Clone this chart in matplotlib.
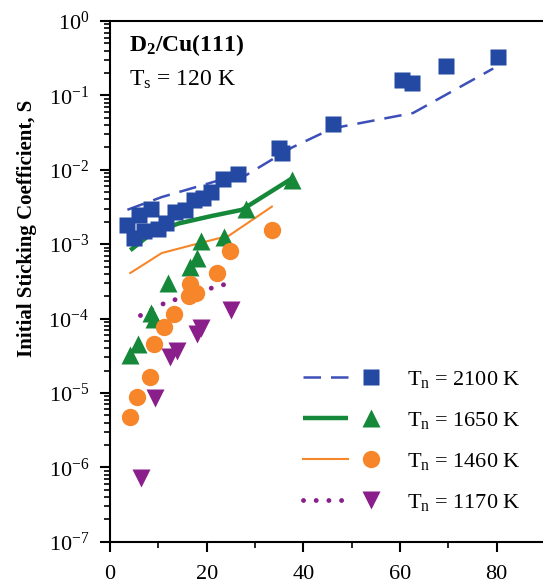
import numpy as np
import matplotlib
matplotlib.use('Agg')
import matplotlib.pyplot as plt
from matplotlib.ticker import LogLocator, FixedLocator, NullFormatter, FuncFormatter
from matplotlib.legend_handler import HandlerTuple

plt.rcParams['font.family'] = ['Liberation Serif', 'DejaVu Serif']
plt.rcParams['mathtext.fontset'] = 'custom'
plt.rcParams['mathtext.rm'] = 'Liberation Serif'
plt.rcParams['mathtext.it'] = 'Liberation Serif:italic'
plt.rcParams['mathtext.bf'] = 'Liberation Serif:bold'

# данные: T_n = 2100 K
x_2100 = [3.5, 5.0, 6.0, 7.0, 8.5, 10.0, 11.5, 13.5, 15.5, 17.3, 19.2, 21.0, 23.4, 26.5,
          35.0, 35.6, 46.2, 60.5, 62.4, 69.5, 80.2]
s_2100 = [1.8e-3, 1.2e-3, 2.5e-3, 1.5e-3, 3.0e-3, 1.6e-3, 1.9e-3, 2.7e-3, 2.9e-3, 3.9e-3,
          4.2e-3, 5.0e-3, 7.5e-3, 8.9e-3, 0.0195, 0.0168, 0.041, 0.16, 0.145, 0.25, 0.33]
fit_x_2100 = [3.6, 10.7, 22.5, 28.2, 37.7, 46.0, 62.7, 79.3]
fit_s_2100 = [2.9e-3, 4.3e-3, 7.2e-3, 8.5e-3, 0.020, 0.036, 0.058, 0.23]

# T_n = 1650 K
x_1650 = [4.2, 5.7, 8.4, 9.0, 12.1, 16.6, 18.0, 18.8, 23.5, 28.1, 37.7]
s_1650 = [3.2e-5, 4.6e-5, 1.2e-4, 1.0e-4, 3.0e-4, 4.9e-4, 6.6e-4, 1.12e-3, 1.24e-3, 3.0e-3, 7.3e-3]
fit_x_1650 = [4.2, 8.6, 14.2, 21.1, 27.3, 37.7]
fit_s_1650 = [8.3e-4, 1.4e-3, 1.9e-3, 2.4e-3, 2.9e-3, 7.7e-3]

# T_n = 1460 K
x_1460 = [4.2, 5.5, 8.2, 9.0, 11.1, 13.2, 16.3, 16.6, 17.7, 22.1, 24.8, 33.5]
s_1460 = [4.8e-6, 8.7e-6, 1.66e-5, 4.5e-5, 7.6e-5, 1.17e-4, 2.0e-4, 2.9e-4, 2.2e-4, 4.1e-4,
          8.0e-4, 1.55e-3]
fit_x_1460 = [4.2, 10.7, 17.7, 24.6, 33.5]
fit_s_1460 = [4.1e-4, 7.6e-4, 1.0e-3, 1.3e-3, 3.2e-3]

# T_n = 1170 K
x_1170 = [6.5, 9.4, 12.5, 13.8, 18.0, 18.8, 25.0]
s_1170 = [7.1e-7, 8.5e-6, 3.0e-5, 3.7e-5, 6.3e-5, 7.5e-5, 1.29e-4]
fit_x_1170 = [6.3, 10.7, 17.3, 23.9]
fit_s_1170 = [1.1e-4, 1.55e-4, 2.2e-4, 2.9e-4]

labels = ['2100', '1650', '1460', '1170']

blue = '#2349a3'
blue_line = '#3d4fb8'
green = '#16883a'
orange = '#f7862a'
purple = '#8a1f8c'

fig = plt.figure(figsize=(5.43, 5.83), dpi=100)
ax = fig.add_axes([0.2026, 0.0708, 0.7974, 0.8931])

# линии (подгонка)
l1, = ax.plot(fit_x_2100, fit_s_2100, color=blue_line, lw=1.8, dashes=(7, 4))
l2, = ax.plot(fit_x_1650, fit_s_1650, color=green, lw=3.2, solid_capstyle='butt')
l3, = ax.plot(fit_x_1460, fit_s_1460, color=orange, lw=1.5)
l4, = ax.plot(fit_x_1170, fit_s_1170, color=purple, lw=3.5, linestyle=(0, (0.01, 2.6)),
              dash_capstyle='round')

# точки
m1, = ax.plot(x_2100, s_2100, 's', color=blue, ms=11, mec='none')
m2, = ax.plot(x_1650, s_1650, '^', color=green, ms=13, mec='none')
m3, = ax.plot(x_1460, s_1460, 'o', color=orange, ms=12.5, mec='none')
m4, = ax.plot(x_1170, s_1170, 'v', color=purple, ms=13, mec='none')

ax.set_yscale('log')
ax.set_xlim(0, 89.6)
ax.set_ylim(1e-7, 1)

ax.xaxis.set_major_locator(FixedLocator([0, 20, 40, 60, 80]))
ax.xaxis.set_minor_locator(FixedLocator([10, 30, 50, 70]))
ax.yaxis.set_major_locator(LogLocator(base=10, numticks=20))
ax.yaxis.set_minor_locator(LogLocator(base=10, subs=np.arange(2, 10), numticks=20))
ax.yaxis.set_minor_formatter(NullFormatter())
ax.yaxis.set_major_formatter(FuncFormatter(lambda v, p: r'$\mathregular{10^{%d}}$' % round(np.log10(v))))

ax.tick_params(axis='both', which='major', direction='out', length=7, width=1.5, labelsize=16)
ax.tick_params(axis='both', which='minor', direction='out', length=4.5, width=1.2)
ax.tick_params(axis='x', which='major', pad=10)
ax.tick_params(axis='y', which='major', pad=8)

for sp in ['left', 'bottom', 'top']:
    ax.spines[sp].set_linewidth(1.5)
ax.spines['right'].set_visible(False)

ax.set_ylabel('Initial Sticking Coefficient, S', fontsize=15, fontweight='bold')
ax.yaxis.set_label_coords(-0.169, 0.602)

ax.text(0.043, 0.954, r'$\mathbf{D_2}$/Cu(111)', transform=ax.transAxes, fontsize=17,
        fontweight='bold', va='center', ha='left')
ax.text(0.043, 0.887, r'$\mathregular{T_s}$ = 120 K', transform=ax.transAxes, fontsize=17,
        va='center', ha='left')

handles = [(l1, m1), (l2, m2), (l3, m3), (l4, m4)]
leg_labels = [r'$\mathregular{T_n}$ = %s K' % t for t in labels]
ax.legend(handles, leg_labels, handler_map={tuple: HandlerTuple(ndivide=2, pad=0)},
          loc='upper left', bbox_to_anchor=(0.445, 0.332), frameon=False, fontsize=16,
          handlelength=4.1, handletextpad=0.6, labelspacing=0.9, borderpad=0,
          borderaxespad=0)

fig.savefig('out.png', dpi=100)
